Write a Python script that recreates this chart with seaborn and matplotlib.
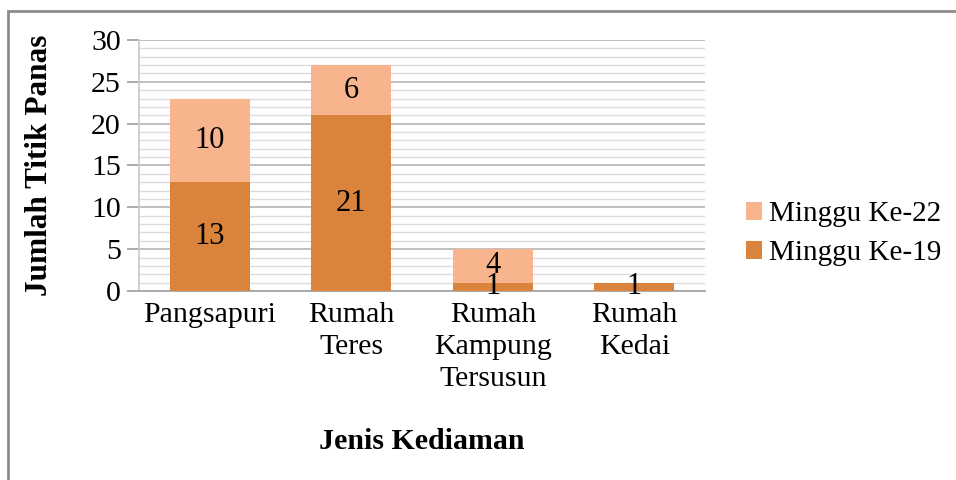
import matplotlib
matplotlib.use("Agg")
import matplotlib.pyplot as plt
import seaborn as sns
import pandas as pd
from matplotlib.ticker import MultipleLocator
from matplotlib.patches import Rectangle

# data
categories = ["Pangsapuri", "Rumah\nTeres", "Rumah\nKampung\nTersusun", "Rumah\nKedai"]
minggu_19 = [13, 21, 1, 1]
minggu_22 = [10, 6, 4, 0]

dark = "#DA833C"
light = "#F8B48C"

sns.set_style("white")
plt.rcParams['font.family'] = ['Liberation Serif', 'DejaVu Serif']
plt.rcParams['text.color'] = 'black'
plt.rcParams['axes.labelcolor'] = 'black'
plt.rcParams['xtick.color'] = 'black'
plt.rcParams['ytick.color'] = 'black'

df = pd.DataFrame({"Jenis": categories, "M19": minggu_19, "M22": minggu_22})
df["Total"] = df["M19"] + df["M22"]

fig = plt.figure(figsize=(9.56, 4.8), dpi=100)
ax = fig.add_axes([0.1454, 0.3938, 0.5921, 0.5229])

# stacked: totals first (light), then bottom series on top (dark)
sns.barplot(data=df, x="Jenis", y="Total", color=light, width=0.565,
            saturation=1, ax=ax, label="Minggu Ke-22", zorder=3, linewidth=0)
sns.barplot(data=df, x="Jenis", y="M19", color=dark, width=0.565,
            saturation=1, ax=ax, label="Minggu Ke-19", zorder=3, linewidth=0)
handles, labels = ax.get_legend_handles_labels()
if ax.get_legend() is not None:
    ax.get_legend().remove()

# segment labels
top_bars = ax.containers[0]
bot_bars = ax.containers[1]
ax.bar_label(bot_bars, labels=[str(v) for v in minggu_19], label_type="center",
             fontsize=22, color="black")
for bar, base, v in zip(top_bars, minggu_19, minggu_22):
    if v > 0:
        ax.text(bar.get_x() + bar.get_width() / 2, base + v / 2, str(v),
                ha="center", va="center", fontsize=22, color="black", zorder=4)

ax.set_ylim(0, 30)
ax.set_xlim(-0.5, 3.5)
ax.yaxis.set_major_locator(MultipleLocator(5))
ax.yaxis.set_minor_locator(MultipleLocator(1))
ax.grid(which="major", axis="y", color="#B4B4B4", linewidth=1.2, zorder=0)
ax.grid(which="minor", axis="y", color="#DCDCDC", linewidth=1.0, zorder=0)
ax.set_axisbelow(True)

for s in ["top", "right"]:
    ax.spines[s].set_visible(False)
ax.spines["left"].set_color("#C8C8C8")
ax.spines["bottom"].set_color("#A6A6A6")
ax.spines["left"].set_linewidth(1.2)
ax.spines["bottom"].set_linewidth(1.3)

ax.tick_params(axis="y", which="major", length=9, width=1.3, color="#A6A6A6",
               labelsize=21.5, pad=4, left=True)
ax.tick_params(axis="y", which="minor", length=0)
ax.tick_params(axis="x", length=0, labelsize=21.5, pad=8)
for t in ax.get_xticklabels():
    t.set_linespacing(1.3)

ax.set_ylabel("Jumlah Titik Panas", fontsize=22.5, fontweight="bold", labelpad=27)
ax.set_xlabel("Jenis Kediaman", fontsize=21.5, fontweight="bold", labelpad=26)

leg = fig.legend(handles, labels, loc="center left", bbox_to_anchor=(0.7525, 0.513),
                 frameon=False, fontsize=21, handlelength=0.55, handleheight=0.55,
                 handletextpad=0.25, labelspacing=0.45)

# outer frame (left + top edges visible)
fig.add_artist(Rectangle((8 / 956, -0.2), 1.2, 1 - 11 / 480 + 0.2,
                         transform=fig.transFigure, fill=False,
                         edgecolor="#8C8C8C", linewidth=2, clip_on=False))

fig.savefig("out.png", dpi=100, facecolor="white")
